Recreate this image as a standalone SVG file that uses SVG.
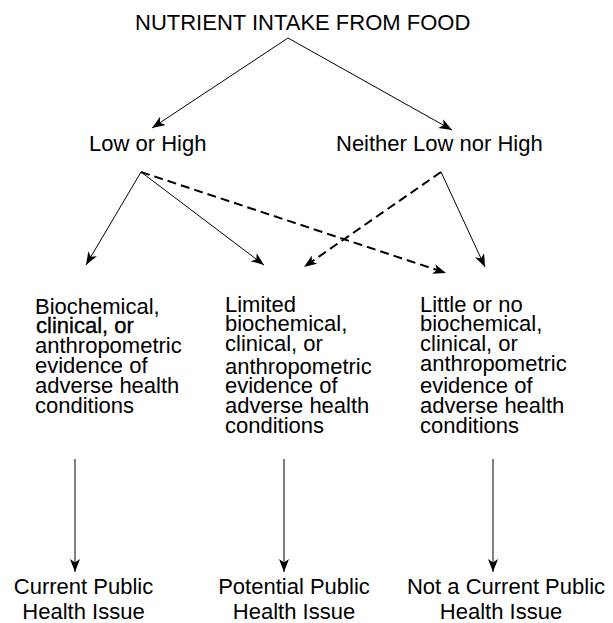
<svg xmlns="http://www.w3.org/2000/svg" width="613" height="623" viewBox="0 0 613 623">
<style>
  text { font-family: "Liberation Sans", Arial, Helvetica, sans-serif; font-size: 22px; fill: #000; }
  .solid { fill: none; stroke: #000; stroke-width: 1; }
  .dash { fill: none; stroke: #000; stroke-width: 2; stroke-dasharray: 9 5; }
  .semi { stroke: #000; stroke-width: 0.35; }
</style>
<defs>
  <marker id="ah" markerUnits="userSpaceOnUse" markerWidth="14" markerHeight="12" refX="13" refY="5" orient="auto">
    <path d="M0,0 L13,5 L0,10 L3.5,5 Z" fill="#000"/>
  </marker>
</defs>
<rect width="613" height="623" fill="#fff"/>
<g id="connectors">
  <line class="solid" x1="288" y1="38" x2="152" y2="128" marker-end="url(#ah)"/>
  <line class="solid" x1="288" y1="38" x2="452" y2="130" marker-end="url(#ah)"/>
  <line class="solid" x1="141" y1="172" x2="86" y2="265" marker-end="url(#ah)"/>
  <line class="solid" x1="141" y1="172" x2="264" y2="265" marker-end="url(#ah)"/>
  <line class="dash" x1="141" y1="172" x2="446" y2="273" marker-end="url(#ah)"/>
  <line class="dash" x1="441" y1="172" x2="304" y2="267" marker-end="url(#ah)"/>
  <line class="solid" x1="441" y1="172" x2="485" y2="267" marker-end="url(#ah)"/>
  <line class="solid" x1="75" y1="459" x2="75" y2="572" marker-end="url(#ah)"/>
  <line class="solid" x1="284" y1="459" x2="284" y2="572" marker-end="url(#ah)"/>
  <line class="solid" x1="493" y1="459" x2="493" y2="572" marker-end="url(#ah)"/>
</g>
<g id="intake">
  <text x="135" y="30">NUTRIENT INTAKE FROM FOOD</text>
</g>
<g id="low-high">
  <text x="89" y="151">Low or High</text>
</g>
<g id="neither">
  <text x="336" y="151">Neither Low nor High</text>
</g>
<g id="evidence">
  <text x="35" y="314">Biochemical,</text>
  <text x="36" y="333" class="semi">clinical, or</text>
  <text x="35" y="353">anthropometric</text>
  <text x="35" y="373">evidence of</text>
  <text x="35" y="393">adverse health</text>
  <text x="35" y="413">conditions</text>
</g>
<g id="limited">
  <text x="225" y="312">Limited</text>
  <text x="225" y="331">biochemical,</text>
  <text x="225" y="351">clinical, or</text>
  <text x="225" y="374">anthropometric</text>
  <text x="225" y="393">evidence of</text>
  <text x="225" y="413">adverse health</text>
  <text x="225" y="433">conditions</text>
</g>
<g id="little">
  <text x="420" y="312">Little or no</text>
  <text x="420" y="331">biochemical,</text>
  <text x="420" y="351">clinical, or</text>
  <text x="420" y="371">anthropometric</text>
  <text x="420" y="393">evidence of</text>
  <text x="420" y="413">adverse health</text>
  <text x="420" y="433">conditions</text>
</g>
<g id="current">
  <text x="83.5" y="594" text-anchor="middle">Current Public</text>
  <text x="83.5" y="619" text-anchor="middle">Health Issue</text>
</g>
<g id="potential">
  <text x="294" y="594" text-anchor="middle">Potential Public</text>
  <text x="294" y="619" text-anchor="middle">Health Issue</text>
</g>
<g id="not-current">
  <text x="506" y="594" text-anchor="middle">Not a Current Public</text>
  <text x="501" y="619" text-anchor="middle">Health Issue</text>
</g>
</svg>
